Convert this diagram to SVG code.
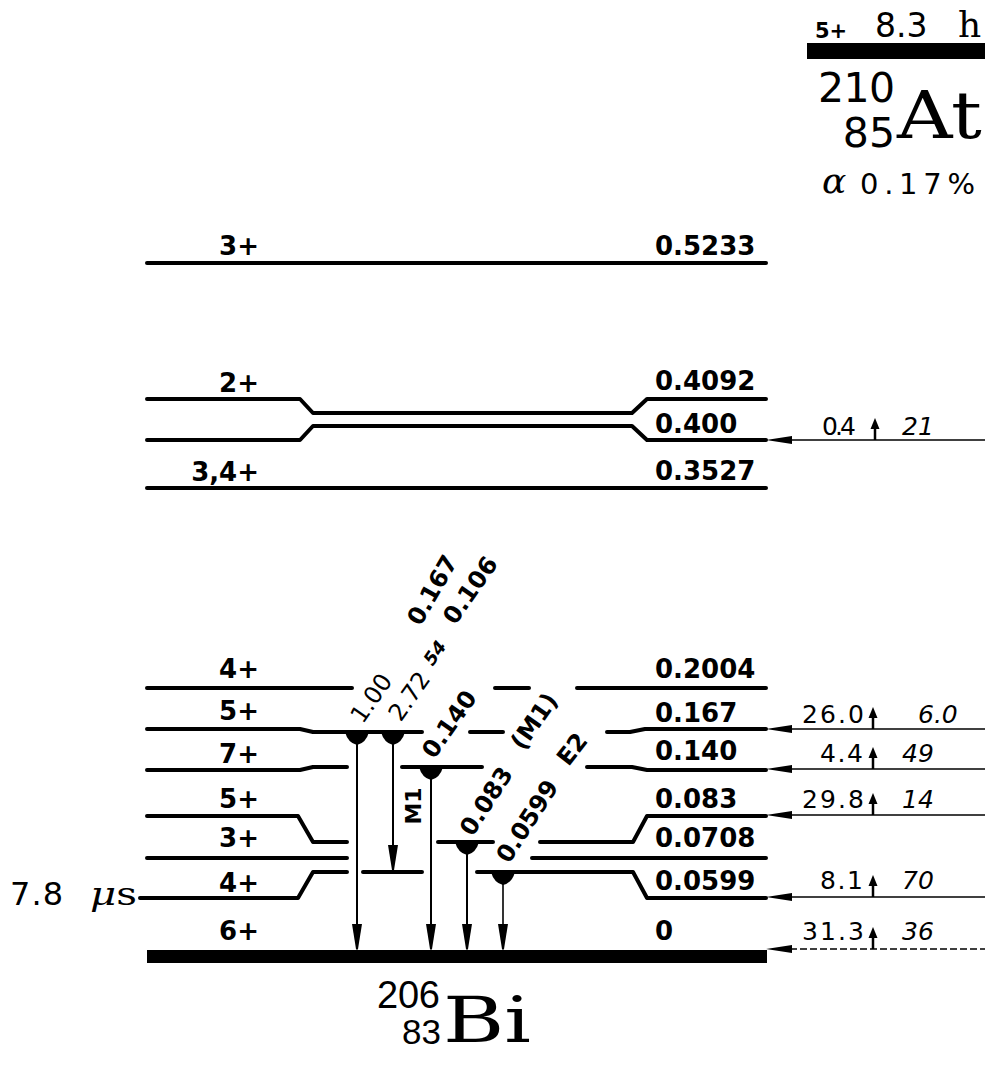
<svg xmlns="http://www.w3.org/2000/svg" width="985" height="1066" viewBox="0 0 985 1066">
<style>
.lvl{stroke:#000;stroke-width:4;fill:none;stroke-linecap:round;stroke-linejoin:round}
.tr{stroke:#000;stroke-width:2;fill:none}
.thin{stroke:#000;stroke-width:1.5;fill:none}
.dash{stroke-dasharray:7 3}
.b{font-family:"DejaVu Sans",sans-serif;font-weight:bold;font-size:26px;fill:#000}
.rb{font-family:"DejaVu Sans",sans-serif;font-weight:bold;font-size:24px;fill:#000}
.r{font-family:"DejaVu Sans",sans-serif;font-size:25px;fill:#000}
.rr{font-family:"DejaVu Sans",sans-serif;font-size:24px;fill:#000}
.it{font-family:"DejaVu Sans",sans-serif;font-style:italic;font-size:25px;fill:#000}
.sym{font-family:"DejaVu Serif",serif;fill:#000}
.num{font-family:"DejaVu Sans",sans-serif;fill:#000}
.lnum{font-family:"Liberation Sans",sans-serif;fill:#000}
</style>
<defs>
<path id="src" d="M-12,0 H12 Q9,11 0,13 Q-9,11 -12,0 Z"/>
<path id="dn" d="M-5,-26 L5,-26 L1,-1 L0,0 L-1,-1 Z"/>
<path id="feed" d="M0,0 L26,-4 L26,4 Z"/>
<g id="up"><path d="M0,0 V-14" stroke="#000" stroke-width="2.5"/><path d="M-4.5,-11 L0,-22 L4.5,-11 Z"/></g>
</defs>
<rect width="985" height="1066" fill="#fff"/>

<g id="parent">
<text class="b" x="815" y="38" style="font-size:21px">5+</text>
<text class="num" x="875" y="37" font-size="33">8.3</text>
<text class="sym" x="958" y="37" font-size="36">h</text>
<rect x="807" y="43" width="178" height="16"/>
<text class="num" x="818" y="102" font-size="41" textLength="77">210</text>
<text class="num" x="895" y="147" font-size="41" text-anchor="end">85</text>
<text class="sym" x="897" y="138" font-size="66" textLength="85" lengthAdjust="spacingAndGlyphs">At</text>
<text x="822" y="193" font-family="DejaVu Serif,serif" font-style="italic" font-size="36">α</text>
<text class="num" x="860" y="194" font-size="29" textLength="115">0.17%</text>
</g>

<g id="L0_5233">
<path class="lvl" d="M147,263 H766"/>
<text class="b" x="259" y="255" text-anchor="end">3+</text>
<text class="b" x="655" y="255">0.5233</text>
</g>
<g id="L0_4092">
<path class="lvl" d="M147,399 H300 L313,413 H632 L647,399 H766"/>
<text class="b" x="259" y="392" text-anchor="end">2+</text>
<text class="b" x="655" y="390">0.4092</text>
</g>
<g id="L0_400">
<path class="lvl" d="M147,440 H300 L313,426 H632 L647,440 H766"/>
<text class="b" x="655" y="433">0.400</text>
</g>
<g id="L0_3527">
<path class="lvl" d="M147,488 H766"/>
<text class="b" x="259" y="481" text-anchor="end">3,4+</text>
<text class="b" x="655" y="480">0.3527</text>
</g>
<g id="L0_2004">
<path class="lvl" d="M147,688 H352 M495,688 H529 M577,688 H766"/>
<text class="b" x="259" y="678" text-anchor="end">4+</text>
<text class="b" x="655" y="678">0.2004</text>
</g>
<g id="L0_167">
<path class="lvl" d="M147,729 H300 L313,732 H422 M470,732 H503 M607,732 H630 L645,729 H766"/>
<text class="b" x="259" y="720" text-anchor="end">5+</text>
<text class="b" x="655" y="722">0.167</text>
</g>
<g id="L0_140">
<path class="lvl" d="M147,770 H300 L313,767 H347 M402,767 H482 M587,767 H632 L647,770 H766"/>
<text class="b" x="259" y="763" text-anchor="end">7+</text>
<text class="b" x="655" y="760">0.140</text>
</g>
<g id="L0_083">
<path class="lvl" d="M147,816 H298 L313,842 H347 M438,842 H493 M540,842 H633 L647,816 H766"/>
<text class="b" x="259" y="808" text-anchor="end">5+</text>
<text class="b" x="655" y="808">0.083</text>
</g>
<g id="L0_0708">
<path class="lvl" d="M147,858 H347 M532,858 H766"/>
<text class="b" x="259" y="847" text-anchor="end">3+</text>
<text class="b" x="655" y="847">0.0708</text>
</g>
<g id="L0_0599">
<path class="lvl" d="M140,898 H298 L313,872 H347 M363,872 H422 M477,872 H633 L647,898 H766"/>
<text class="b" x="259" y="892" text-anchor="end">4+</text>
<text class="b" x="655" y="890">0.0599</text>
<text class="num" x="10" y="905" font-size="32" textLength="53">7.8</text>
<text x="90" y="905" font-family="DejaVu Serif,serif" font-size="32" textLength="47" lengthAdjust="spacingAndGlyphs"><tspan font-style="italic">μ</tspan>s</text>
</g>
<g id="L0">
<rect x="147" y="950" width="620" height="13"/>
<text class="b" x="259" y="940" text-anchor="end">6+</text>
<text class="b" x="655" y="940">0</text>
<text class="lnum" x="377" y="1008" font-size="38" textLength="63">206</text>
<text class="lnum" x="441" y="1044" font-size="35" text-anchor="end">83</text>
<text class="sym" x="443" y="1042" font-size="64" textLength="88" lengthAdjust="spacingAndGlyphs">Bi</text>
</g>

<g id="connectors">
<path class="tr" d="M357,732 V948"/>
<use href="#src" x="357" y="732"/><use href="#dn" x="357" y="950"/>
<path class="tr" d="M393,732 V868"/>
<use href="#src" x="393" y="732"/><use href="#dn" x="393" y="871"/>
<path class="tr" d="M431,767 V948"/>
<use href="#src" x="431" y="767"/><use href="#dn" x="431" y="950"/>
<path class="tr" d="M467,842 V948"/>
<use href="#src" x="467" y="842"/><use href="#dn" x="467" y="950"/>
<path class="tr" d="M503,872 V948" style="stroke-width:1.6"/>
<use href="#src" x="503" y="872"/><use href="#dn" x="503" y="950"/>
<use href="#feed" x="766" y="440"/><path class="thin" d="M790,440 H985"/>
<use href="#feed" x="766" y="729"/><path class="thin" d="M790,729 H985"/>
<use href="#feed" x="766" y="769"/><path class="thin" d="M790,769 H985"/>
<use href="#feed" x="766" y="815"/><path class="thin" d="M790,815 H985"/>
<use href="#feed" x="766" y="897"/><path class="thin" d="M790,897 H985"/>
<use href="#feed" x="766" y="949"/><path class="thin dash" d="M790,949 H985"/>
<use href="#up" x="875" y="440"/>
<use href="#up" x="873" y="729"/>
<use href="#up" x="873" y="769"/>
<use href="#up" x="873" y="815"/>
<use href="#up" x="873" y="897"/>
<use href="#up" x="873" y="949"/>
</g>

<g id="feed-labels">
<text class="r" x="822" y="435" textLength="34">0.4</text><text class="it" x="902" y="435">21</text>
<text class="r" x="802" y="723" textLength="62">26.0</text><text class="it" x="918" y="723">6.0</text>
<text class="r" x="820" y="762" textLength="43">4.4</text><text class="it" x="902" y="762">49</text>
<text class="r" x="802" y="808" textLength="62">29.8</text><text class="it" x="902" y="808">14</text>
<text class="r" x="820" y="889" textLength="43">8.1</text><text class="it" x="902" y="889">70</text>
<text class="r" x="802" y="940" textLength="62">31.3</text><text class="it" x="902" y="940">36</text>
</g>

<g id="gamma-labels">
<text class="rb" text-anchor="middle" y="8.5" transform="translate(432,590) rotate(-60)">0.167</text>
<text class="rb" text-anchor="middle" y="8.5" transform="translate(470,590) rotate(-55)">0.106</text>
<text class="rr" text-anchor="middle" y="8.5" transform="translate(371,698) rotate(-55)">1.00</text>
<text class="rr" text-anchor="middle" y="8.5" transform="translate(409,696) rotate(-55)">2.72</text>
<text class="rb" text-anchor="middle" y="6" transform="translate(435,653) rotate(-55)" style="font-size:18px;font-style:italic">54</text>
<text class="rb" text-anchor="middle" y="8.5" transform="translate(449,724) rotate(-55)">0.140</text>
<text class="rb" text-anchor="middle" y="8.5" transform="translate(534,721) rotate(-55)">(M1)</text>
<text class="rb" text-anchor="middle" y="8.5" transform="translate(572,749) rotate(-52)">E2</text>
<text class="rb" text-anchor="middle" y="8.5" transform="translate(486,801) rotate(-57)">0.083</text>
<text class="rb" text-anchor="middle" y="8.5" transform="translate(527,821) rotate(-57)">0.0599</text>
<text class="rb" text-anchor="middle" y="8" transform="translate(413,806) rotate(-90)" style="font-size:22px">M1</text>
</g>
</svg>
